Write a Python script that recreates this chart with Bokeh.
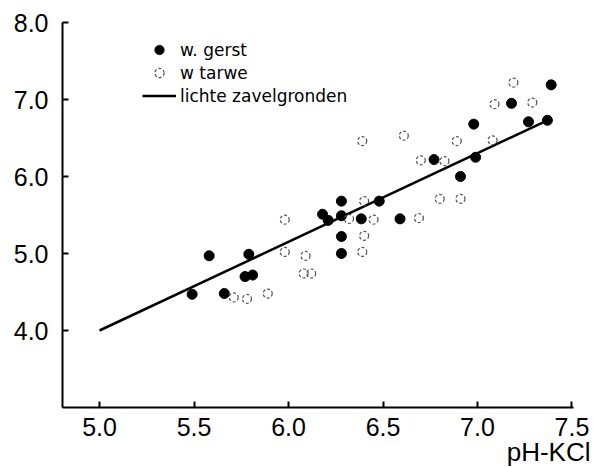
from bokeh.plotting import figure
from bokeh.models import Legend, LegendItem, FixedTicker, PrintfTickFormatter, Title
from bokeh.embed import file_html
from bokeh.resources import INLINE

# data
gerst_x = [5.49, 5.58, 5.66, 5.77, 5.79, 5.81, 6.18, 6.21, 6.28, 6.28, 6.28, 6.28,
           6.385, 6.48, 6.59, 6.77, 6.91, 6.98, 6.99, 7.18, 7.27, 7.37, 7.39]
gerst_y = [4.47, 4.97, 4.48, 4.70, 4.99, 4.72, 5.51, 5.43, 5.68, 5.49, 5.22, 5.00,
           5.45, 5.68, 5.45, 6.22, 6.00, 6.68, 6.25, 6.95, 6.71, 6.73, 7.19]

tarwe_x = [5.71, 5.78, 5.89, 5.98, 5.98, 6.08, 6.09, 6.12, 6.32, 6.39, 6.39, 6.40,
           6.40, 6.45, 6.61, 6.69, 6.70, 6.80, 6.825, 6.89, 6.91, 7.08, 7.09, 7.19, 7.29]
tarwe_y = [4.43, 4.41, 4.48, 5.44, 5.02, 4.74, 4.97, 4.74, 5.45, 6.46, 5.02, 5.68,
           5.23, 5.44, 6.53, 5.46, 6.21, 5.71, 6.20, 6.46, 5.71, 6.47, 6.94, 7.22, 6.96]

line_x = [5.0, 7.37]
line_y = [4.0, 6.73]

x_ticks = [5.0, 5.5, 6.0, 6.5, 7.0, 7.5]
y_ticks = [4.0, 5.0, 6.0, 7.0, 8.0]
x_title = "pH-KCl"

p = figure(width=594, height=467, x_range=(4.804, 7.508), y_range=(3.0, 8.0),
           output_backend="svg", toolbar_location=None,
           min_border_left=62, min_border_right=21, min_border_top=22, min_border_bottom=60)
p.outline_line_color = None
p.grid.visible = False
p.background_fill_color = "white"

for ax in (p.xaxis[0], p.yaxis[0]):
    ax.axis_line_width = 2
    ax.axis_line_color = "black"
    ax.major_tick_in = 6
    ax.major_tick_out = 0
    ax.major_tick_line_width = 2
    ax.minor_tick_line_color = None
    ax.major_label_text_font = "Liberation Sans"
    ax.major_label_text_font_size = "25px"
    ax.major_label_text_color = "black"
    ax.formatter = PrintfTickFormatter(format="%.1f")

p.xaxis.ticker = FixedTicker(ticks=x_ticks)
p.yaxis.ticker = FixedTicker(ticks=y_ticks)
p.xaxis.major_label_standoff = 10
p.yaxis.major_label_standoff = 14

p.add_layout(Title(text=x_title, align="right", offset=-17, standoff=-8,
                   text_font="Liberation Sans", text_font_size="26px",
                   text_font_style="normal", text_color="black"), "below")

r_line = p.line(line_x, line_y, line_color="black", line_width=2.5)
r_g = p.scatter(gerst_x, gerst_y, size=10, fill_color="black", line_color="black")
r_t = p.scatter(tarwe_x, tarwe_y, size=9, fill_color=None, line_color="#555555",
                line_width=1.2, line_dash="3 2")

legend = Legend(items=[
    LegendItem(label="w. gerst", renderers=[r_g]),
    LegendItem(label="w tarwe", renderers=[r_t]),
    LegendItem(label="lichte zavelgronden", renderers=[r_line]),
], location=(80, 300), padding=0, margin=0, spacing=0, glyph_width=34, glyph_height=23,
    label_height=23, label_standoff=4, border_line_color=None, background_fill_alpha=0,
    label_text_font="DejaVu Sans", label_text_font_size="17px", label_text_color="black")
p.add_layout(legend)

open("out.html", "w").write(file_html(p, INLINE))
